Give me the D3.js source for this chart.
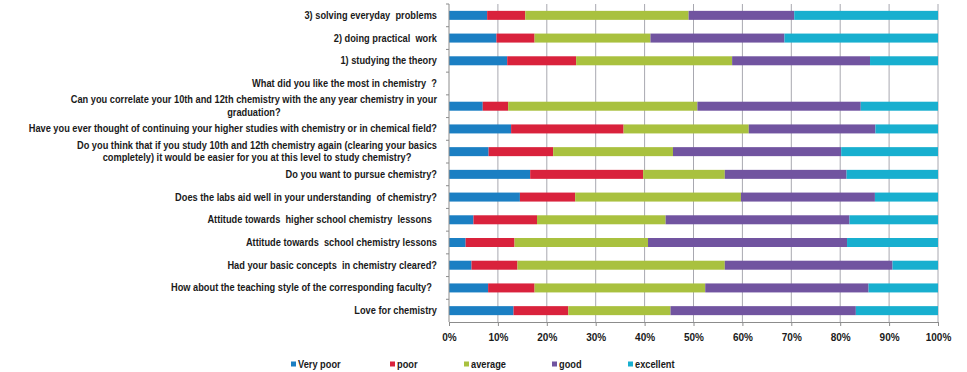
<!DOCTYPE html>
<html>
<head>
<meta charset="utf-8">
<script src="https://cdn.jsdelivr.net/npm/d3@7"></script>
<style>
    body { margin: 0; background: #fff; }
    text { font-family: "Liberation Sans", Arial, sans-serif; font-weight: bold; fill: #1a1a1a; }
</style>
</head>
<body>
<script>
// survey questions, top to bottom (multi-line labels split with "|")
const questions = [
    "3) solving everyday  problems",
    "2) doing practical  work",
    "1) studying the theory",
    "What did you like the most in chemistry  ?",
    "Can you correlate your 10th and 12th chemistry with the any year chemistry in your|graduation?",
    "Have you ever thought of continuing your higher studies with chemistry or in chemical field?",
    "Do you think that if you study 10th and 12th chemistry again (clearing your basics|completely) it would be easier for you at this level to study chemistry?",
    "Do you want to pursue chemistry?",
    "Does the labs aid well in your understanding  of chemistry?",
    "Attitude towards  higher school chemistry  lessons  ",
    "Attitude towards  school chemistry lessons",
    "Had your basic concepts  in chemistry cleared?",
    "How about the teaching style of the corresponding faculty?  ",
    "Love for chemistry"
];

const ratings = ["Very poor", "poor", "average", "good", "excellent"];

// percentage of answers per rating, same order as questions
const veryPoor  = [7.8, 9.7, 11.9, 0, 6.9, 12.7, 8.1, 16.6, 14.5, 5.0, 3.4, 4.6, 8.0, 13.2];
const poor      = [7.8, 7.8, 14.1, 0, 5.2, 23.0, 13.2, 23.1, 11.3, 13.0, 10.0, 9.4, 9.5, 11.2];
const average   = [33.4, 23.7, 31.9, 0, 38.7, 25.6, 24.5, 16.7, 33.9, 26.3, 27.3, 42.4, 34.9, 20.9];
const good      = [21.6, 27.4, 28.2, 0, 33.4, 25.9, 34.4, 24.9, 27.4, 37.6, 40.7, 34.3, 33.4, 37.9];
const excellent = [29.4, 31.4, 13.9, 0, 15.8, 12.8, 19.8, 18.7, 12.9, 18.1, 18.6, 9.3, 14.2, 16.8];

const xTicks = [0, 0.1, 0.2, 0.3, 0.4, 0.5, 0.6, 0.7, 0.8, 0.9, 1];

const colors = ["#1b7fc3", "#d9223c", "#a9c13f", "#7154a0", "#18afcf"];

const width = 967, height = 372;
const margin = { top: 4, right: 29, bottom: 50, left: 449 };
const squeeze = 0.925; // the original font is narrower than Liberation Sans

const svg = d3.select("body").append("svg")
    .attr("width", width)
    .attr("height", height);

const rows = questions.map(function (q, i) {
    return {
        question: q,
        "Very poor": veryPoor[i],
        "poor": poor[i],
        "average": average[i],
        "good": good[i],
        "excellent": excellent[i]
    };
});

// normalise to 100% like Excel's stacked percent bars
const stack = d3.stack()
    .keys(ratings)
    .offset(d3.stackOffsetExpand);
const series = stack(rows);

const x = d3.scaleLinear()
    .domain([0, 1])
    .range([margin.left, width - margin.right]);

const y = d3.scaleBand()
    .domain(questions)
    .range([margin.top, height - margin.bottom]);

const barHeight = 9;

// vertical gridlines
svg.append("g")
    .selectAll("line")
    .data(xTicks.slice(1))
    .enter().append("line")
    .attr("x1", function (d) { return x(d); })
    .attr("x2", function (d) { return x(d); })
    .attr("y1", margin.top)
    .attr("y2", height - margin.bottom)
    .attr("stroke", "#a8a8b0")
    .attr("stroke-width", 1);

svg.append("g")
    .selectAll("g")
    .data(series)
    .enter().append("g")
    .attr("fill", function (d, i) { return colors[i]; })
    .selectAll("rect")
    .data(function (d) { return d; })
    .enter().append("rect")
    .filter(function (d) { return !isNaN(d[0]) && !isNaN(d[1]); })
    .attr("x", function (d) { return x(d[0]); })
    .attr("width", function (d) { return Math.max(0, x(d[1]) - x(d[0])); })
    .attr("y", function (d) { return y(d.data.question) + y.bandwidth() / 2 - barHeight / 2; })
    .attr("height", barHeight);

// x axis
const xAxis = d3.axisBottom(x)
    .tickValues(xTicks)
    .tickSize(4)
    .tickFormat(d3.format(".0%"));

const xg = svg.append("g")
    .attr("transform", "translate(0," + (height - margin.bottom) + ")")
    .call(xAxis);
xg.select(".domain").attr("stroke", "#8c8c8c");
xg.selectAll(".tick line").attr("stroke", "#8c8c8c");
xg.selectAll(".tick text")
    .attr("dy", "1.2em")
    .style("font-size", "10px")
    .style("font-family", "'Liberation Sans', Arial, sans-serif")
    .attr("fill", "#1a1a1a");

// y axis: line with ticks at the category boundaries
svg.append("line")
    .attr("x1", margin.left).attr("x2", margin.left)
    .attr("y1", margin.top).attr("y2", height - margin.bottom)
    .attr("stroke", "#8c8c8c");

svg.append("g")
    .selectAll("line")
    .data(questions)
    .enter().append("line")
    .attr("x1", margin.left - 3)
    .attr("x2", margin.left)
    .attr("y1", function (d) { return y(d); })
    .attr("y2", function (d) { return y(d); })
    .attr("stroke", "#8c8c8c");

// category labels, squeezed horizontally and centred on their widest line
const labelRight = margin.left - 12;
questions.forEach(function (q) {
    const lines = q.split("|");
    const cy = y(q) + y.bandwidth() / 2;
    const g = svg.append("g")
        .attr("transform", "translate(" + labelRight + "," + cy + ") scale(" + squeeze + ",1)");
    const t = g.append("text")
        .style("font-size", "10px")
        .attr("text-anchor", "middle");
    lines.forEach(function (line, i) {
        t.append("tspan")
            .attr("y", (i - (lines.length - 1) / 2) * 12.5)
            .attr("dy", "0.35em")
            .attr("xml:space", "preserve")
            .text(line);
    });
    const w = d3.max(t.selectAll("tspan").nodes(), function (n) { return n.getComputedTextLength(); });
    t.selectAll("tspan").attr("x", -w / 2);
});

// legend
const legendX = [291, 390, 464, 552, 628];
const legend = svg.append("g")
    .selectAll("g")
    .data(ratings)
    .enter().append("g")
    .attr("transform", function (d, i) { return "translate(" + legendX[i] + "," + 364 + ")"; });

legend.append("rect")
    .attr("x", 0)
    .attr("y", -2.5)
    .attr("width", 5)
    .attr("height", 5)
    .attr("fill", function (d, i) { return colors[i]; });

legend.append("text")
    .attr("x", 7 / squeeze)
    .attr("dy", "0.35em")
    .attr("transform", "scale(" + squeeze + ",1)")
    .style("font-size", "10px")
    .text(function (d) { return d; });
</script>
</body>
</html>
